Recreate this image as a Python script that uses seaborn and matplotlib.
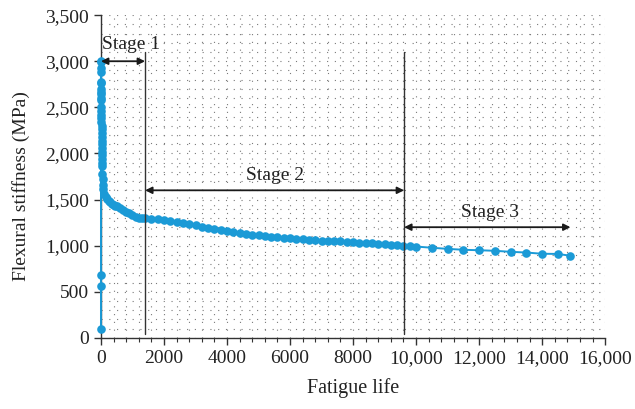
import matplotlib
matplotlib.use("Agg")
import matplotlib.pyplot as plt
import matplotlib.ticker as mticker
import seaborn as sns
import pandas as pd

# fatigue life (cycles) vs flexural stiffness (MPa)
cycles = [0, 0, 0, 0, 2, 3, 4, 5, 6, 7, 8, 9, 10, 11, 12, 13, 14, 15, 16, 17,
          18, 19, 20, 22, 24, 26, 28, 30, 33, 36, 40, 45, 50, 55,
          60, 100, 150, 200, 250, 300, 350, 400, 450, 500, 600, 700, 800, 900,
          1000, 1100, 1200, 1300, 1400,
          1600, 1800, 2000, 2200, 2400, 2600, 2800, 3000, 3200, 3400, 3600,
          3800, 4000, 4200, 4400, 4600, 4800, 5000, 5200, 5400, 5600, 5800,
          6000, 6200, 6400, 6600, 6800, 7000, 7200, 7400, 7600, 7800, 8000,
          8200, 8400, 8600, 8800, 9000, 9200, 9400, 9600, 9800,
          10000, 10500, 11000, 11500, 12000, 12500, 13000, 13500, 14000,
          14500, 14900]
stiffness = [100, 560, 680, 3000, 2990, 2930, 2880, 2780, 2760, 2700, 2670,
             2640, 2600, 2580, 2500, 2460, 2420, 2380, 2340, 2300, 2260, 2220,
             2180, 2140, 2100, 2060, 2020, 1980, 1940, 1900, 1860, 1780, 1720,
             1660, 1610, 1560, 1530, 1505, 1485, 1470, 1455, 1445, 1435, 1425,
             1405, 1385, 1370, 1350, 1330, 1315, 1305, 1300, 1295,
             1290, 1285, 1275, 1265, 1255, 1245, 1235, 1225, 1205, 1195, 1180,
             1170, 1160, 1150, 1140, 1130, 1120, 1115, 1105, 1098, 1090, 1084,
             1078, 1072, 1068, 1062, 1058, 1055, 1052, 1048, 1045, 1040, 1036,
             1032, 1028, 1025, 1022, 1015, 1008, 1002, 997, 993,
             990, 977, 965, 955, 950, 944, 933, 925, 912, 910, 890]

stage_bounds = [1400, 9620]
stage_names = ["Stage 1", "Stage 2", "Stage 3"]
stage_arrows = [(0, 1400, 3000), (1400, 9620, 1600), (9620, 14900, 1200)]
stage_text = [(970, 3180), (5520, 1760), (12350, 1355)]

df = pd.DataFrame({"cycles": cycles, "stiffness": stiffness})

sns.set_style("ticks")
plt.rcParams["font.family"] = ["Liberation Serif", "DejaVu Serif"]

fig = plt.figure(figsize=(6.35, 4.09), dpi=100)
ax = fig.add_axes([0.159, 0.174, 0.794, 0.789])

ax.set_xlim(0, 16000)
ax.set_ylim(0, 3500)
ax.xaxis.set_major_locator(mticker.MultipleLocator(2000))
ax.xaxis.set_minor_locator(mticker.MultipleLocator(400))
ax.yaxis.set_major_locator(mticker.MultipleLocator(500))
ax.yaxis.set_minor_locator(mticker.MultipleLocator(100))
ax.xaxis.set_major_formatter(mticker.FuncFormatter(
    lambda v, p: f"{int(v):,}" if v >= 10000 else f"{int(v)}"))
ax.yaxis.set_major_formatter(mticker.FuncFormatter(lambda v, p: f"{int(v):,}"))

ax.grid(True, which="both", linestyle=(0, (1, 6)), linewidth=0.8, color="#7a7a7a")
ax.set_axisbelow(True)

sns.lineplot(data=df, x="cycles", y="stiffness", sort=False, estimator=None,
             color="#1b9ad6", marker="o", markersize=6.2, markeredgewidth=0,
             linewidth=1.4, ax=ax, clip_on=False, zorder=3)

for b in stage_bounds:
    ax.plot([b, b], [40, 3100], color="#333333", linewidth=1.0, zorder=4)

for (x0, x1, y), name, (tx, ty) in zip(stage_arrows, stage_names, stage_text):
    ax.annotate("", xy=(x1, y), xytext=(x0, y),
                arrowprops=dict(arrowstyle="<|-|>", color="#1a1a1a", lw=1.3,
                                shrinkA=0, shrinkB=0, mutation_scale=10),
                zorder=5)
    ax.text(tx, ty, name, ha="center", va="center", fontsize=14, color="#222222")

sns.despine(ax=ax)
for s in ["left", "bottom"]:
    ax.spines[s].set_color("#333333")
    ax.spines[s].set_linewidth(1.0)
ax.tick_params(which="major", direction="out", length=5, width=1, color="#333333",
               labelsize=14, labelcolor="#222222")
ax.tick_params(axis="x", which="minor", direction="out", length=3, width=0.8,
               color="#333333")
ax.tick_params(axis="y", which="minor", length=0)

ax.set_xlabel("Fatigue life", fontsize=14.5, color="#222222", labelpad=8)
ax.set_ylabel("Flexural stiffness (MPa)", fontsize=14, color="#222222", labelpad=6)
ax.yaxis.set_label_coords(-0.14, 0.47)

fig.savefig("out.png", dpi=100)
